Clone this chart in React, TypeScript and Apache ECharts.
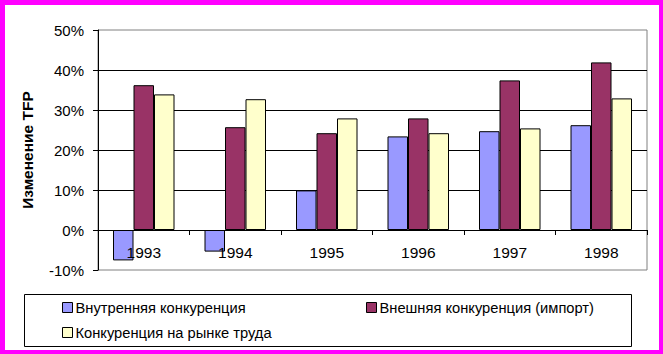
import React, { useEffect, useRef } from "react";
import * as echarts from "echarts";

const years = ["1993", "1994", "1995", "1996", "1997", "1998"];
const domestic = [-7.6, -5.4, 9.9, 23.4, 24.7, 26.2];
const importComp = [36.2, 25.7, 24.2, 27.9, 37.4, 41.9];
const labour = [33.9, 32.7, 27.9, 24.2, 25.4, 32.9];
const seriesNames = [
  "Внутренняя конкуренция",
  "Внешняя конкуренция (импорт)",
  "Конкуренция на рынке труда",
];
const colors = ["#9999FF", "#993366", "#FFFFCC"];
const yTitle = "Изменение TFP";

const FONT = "'Liberation Sans', Arial, sans-serif";

export default function App() {
  const ref = useRef<HTMLDivElement>(null);
  useEffect(() => {
    if (!ref.current) return;
    const chart = echarts.init(ref.current, undefined, { renderer: "svg" });
    const values = [domestic, importComp, labour];
    const legendPos = [
      { left: 62, top: 300 },
      { left: 366, top: 300 },
      { left: 62, top: 325 },
    ];
    chart.setOption({
      animation: false,
      backgroundColor: "#ffffff",
      textStyle: { fontFamily: FONT },
      grid: {
        left: 98,
        right: 16,
        top: 30,
        bottom: 84,
        show: true,
        borderColor: "#808080",
        borderWidth: 1,
        backgroundColor: "transparent",
      },
      xAxis: {
        type: "category",
        data: years,
        z: 3,
        axisLine: { onZero: true, lineStyle: { color: "#000", width: 1 } },
        axisTick: { show: true, length: 5, inside: false, lineStyle: { color: "#000" } },
        axisLabel: { color: "#000", fontSize: 15.5, margin: -26, fontFamily: FONT },
        splitLine: { show: false },
      },
      yAxis: {
        type: "value",
        min: -10,
        max: 50,
        interval: 10,
        name: yTitle,
        nameLocation: "middle",
        nameRotate: 90,
        nameGap: 63,
        nameTextStyle: { color: "#000", fontSize: 15.5, fontWeight: "bold", fontFamily: FONT },
        axisLine: { show: true, lineStyle: { color: "#000", width: 1 } },
        axisTick: { show: true, length: 5, lineStyle: { color: "#000" } },
        axisLabel: { color: "#000", fontSize: 15, margin: 14, formatter: "{value}%", fontFamily: FONT },
        splitLine: {
          show: true,
          showMinLine: false,
          showMaxLine: false,
          lineStyle: { color: "#000", width: 1 },
        },
      },
      legend: seriesNames.map((n, i) => ({
        data: [n],
        left: legendPos[i].left,
        top: legendPos[i].top,
        padding: 0,
        itemWidth: 10,
        itemHeight: 10,
        itemGap: 4,
        icon: "rect",
        itemStyle: { borderColor: "#000", borderWidth: 1 },
        textStyle: { color: "#000", fontSize: 14.7, fontFamily: FONT, padding: [0, 0, 0, -2] },
        selectedMode: false,
      })),
      graphic: [
        {
          type: "rect",
          z: -1,
          shape: { x: 24.5, y: 294.5, width: 607, height: 52 },
          style: { fill: "none", stroke: "#000", lineWidth: 1 },
        },
        { type: "rect", shape: { x: 0, y: 0, width: 663, height: 5 }, style: { fill: "#FF00FF" } },
        { type: "rect", shape: { x: 0, y: 0, width: 5, height: 354 }, style: { fill: "#FF00FF" } },
        { type: "rect", shape: { x: 659, y: 0, width: 4, height: 354 }, style: { fill: "#FF00FF" } },
        { type: "rect", shape: { x: 0, y: 350, width: 663, height: 4 }, style: { fill: "#FF00FF" } },
      ],
      series: seriesNames.map((n, i) => ({
        name: n,
        type: "bar",
        data: values[i],
        barWidth: 20.5,
        barGap: "0%",
        itemStyle: { color: colors[i], borderColor: "#000", borderWidth: 1 },
      })),
    });
    return () => chart.dispose();
  }, []);
  return (
    <div style={{ position: "fixed", left: 0, top: 0, width: 663, height: 354 }}>
      <div ref={ref} style={{ width: 663, height: 354 }} />
    </div>
  );
}
